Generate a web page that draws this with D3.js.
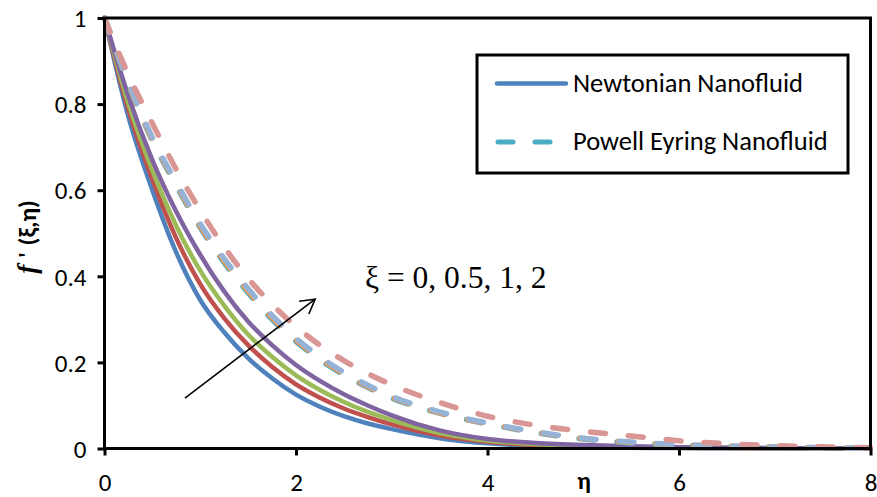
<!DOCTYPE html>
<html><head><meta charset="utf-8">
<script src="https://cdn.jsdelivr.net/npm/d3@7/dist/d3.min.js"></script>
<style>
html,body{margin:0;padding:0;background:#fff;}
svg{display:block;}
</style></head>
<body>
<svg id="c" width="877" height="497"></svg>
<script>
// eta grid
const eta = [0,0.25,0.5,0.75,1,1.25,1.5,1.75,2,2.25,2.5,2.75,3,3.5,4,4.5,5,5.5,6,6.5,7,7.5,8];
// Newtonian nanofluid, xi = 0, 0.5, 1, 2
const newtonXi0 = [1,0.77,0.60,0.455,0.345,0.27,0.21,0.163,0.125,0.097,0.075,0.058,0.045,0.024,0.012,0.006,0.003,0.0018,0.001,0.0006,0.0003,0.0001,0];
const newtonXi05 = [1,0.787,0.625,0.488,0.382,0.303,0.24,0.19,0.149,0.118,0.093,0.073,0.056,0.03,0.0155,0.0085,0.0048,0.003,0.0017,0.001,0.0005,0.0002,0];
const newtonXi1 = [1,0.801,0.646,0.517,0.413,0.332,0.265,0.213,0.17,0.136,0.108,0.085,0.066,0.036,0.0185,0.0105,0.0063,0.004,0.0023,0.0015,0.0008,0.0004,0];
const newtonXi2 = [1,0.818,0.67,0.55,0.45,0.365,0.295,0.24,0.194,0.157,0.126,0.1,0.077,0.042,0.022,0.013,0.008,0.005,0.003,0.002,0.001,0.0005,0];
// Powell-Eyring nanofluid, xi = 0, 0.5, 1, 2
const powellXi0 = [1,0.845,0.715,0.61,0.513,0.432,0.362,0.3,0.249,0.206,0.171,0.142,0.117,0.082,0.057,0.037,0.022,0.013,0.008,0.005,0.003,0.0015,0];
const powellXi05 = [1,0.847,0.718,0.614,0.517,0.436,0.366,0.304,0.252,0.209,0.174,0.144,0.119,0.083,0.058,0.038,0.023,0.014,0.0085,0.0053,0.0032,0.0016,0];
const powellXi1 = [1,0.85,0.722,0.618,0.522,0.441,0.371,0.309,0.256,0.213,0.177,0.147,0.121,0.085,0.059,0.039,0.024,0.015,0.009,0.0056,0.0034,0.0017,0];
const powellXi2 = [1,0.868,0.755,0.648,0.553,0.468,0.395,0.335,0.283,0.24,0.204,0.174,0.148,0.107,0.075,0.054,0.04,0.029,0.018,0.011,0.0065,0.004,0.002];

const xTicks = [0,2,4,6,8];
const yTicks = [0,0.2,0.4,0.6,0.8,1];
const legendLabels = ["Newtonian Nanofluid","Powell Eyring Nanofluid"];
const annotation = "ξ = 0, 0.5, 1, 2";
const arrowFrom = [0.84,0.117];
const arrowTo = [2.2,0.347];

const series = [
  {v:newtonXi0, c:"#4F81BD", dash:false},
  {v:newtonXi05, c:"#C0504D", dash:false},
  {v:newtonXi1, c:"#9BBB59", dash:false},
  {v:newtonXi2, c:"#8064A2", dash:false},
  {v:powellXi0, c:"#4BACC6", dash:true},
  {v:powellXi05, c:"#F79646", dash:true},
  {v:powellXi1, c:"#95B3D7", dash:true},
  {v:powellXi2, c:"#D99694", dash:true}
];

const svg = d3.select("#c");
const x = d3.scaleLinear().domain([0,8]).range([104.5,870.5]);
const y = d3.scaleLinear().domain([0,1]).range([448.5,18]);

const sansFont = "Carlito, Calibri, Lato, 'Open Sans', sans-serif";

// lines
const line = d3.line().x((d,i)=>x(eta[i])).y(d=>y(d)).curve(d3.curveMonotoneX);
const gLines = svg.append("g");
series.forEach(s=>{
  gLines.append("path").datum(s.v).attr("d",line)
    .attr("fill","none").attr("stroke",s.c)
    .attr("stroke-width",s.dash?5.5:4.5)
    .attr("stroke-linecap",s.dash?"round":"butt")
    .attr("stroke-dasharray",s.dash?"15,23":null);
});

// axes
const xAxis = d3.axisBottom(x).tickValues(xTicks).tickSize(7).tickFormat(d3.format("d"));
const yAxis = d3.axisLeft(y).tickValues(yTicks).tickSize(7).tickFormat(d=>d===0?"0":d===1?"1":d3.format(".1f")(d));
const gx = svg.append("g").attr("transform",`translate(0,${y(0)})`).call(xAxis);
const gy = svg.append("g").attr("transform",`translate(${x(0)},0)`).call(yAxis);
[gx,gy].forEach(g=>{
  g.select(".domain").remove();
  g.selectAll(".tick line").attr("stroke","#000").attr("stroke-width",3);
  g.selectAll(".tick text").attr("fill","#000").style("font-family",sansFont).style("font-size","25px");
});
gx.selectAll(".tick text").attr("dy","0").attr("y",42);
gy.selectAll(".tick text").attr("x",-18).attr("dy","0.35em");

// frame
svg.append("rect").attr("x",x(0)).attr("y",y(1)).attr("width",x(8)-x(0)).attr("height",y(0)-y(1))
  .attr("fill","none").attr("stroke","#000").attr("stroke-width",3);

// axis titles
svg.append("text").attr("x",584).attr("y",489).attr("text-anchor","middle")
  .style("font-family",sansFont).style("font-weight","bold").style("font-size","25px").text("η");
const yl = svg.append("text").attr("transform","translate(36,237) rotate(-90)").attr("text-anchor","middle")
  .style("font-size","25px");
yl.append("tspan").style("font-family","'Liberation Serif', serif").style("font-style","italic").style("font-weight","bold").style("font-size","27px").text("f");
yl.append("tspan").style("font-family","'Liberation Serif', serif").style("font-weight","bold").text(" ' ");
yl.append("tspan").style("font-family",sansFont).style("font-weight","bold").text("(ξ,η)");

// annotation arrow
svg.append("defs").append("marker").attr("id","ah").attr("viewBox","-16 -10 18 20")
  .attr("refX",0).attr("refY",0).attr("markerWidth",18).attr("markerHeight",20)
  .attr("markerUnits","userSpaceOnUse").attr("orient","auto")
  .append("path").attr("d","M-14,-8 L0,0 L-14,8").attr("fill","none").attr("stroke","#000").attr("stroke-width",1.6);
svg.append("line").attr("x1",x(arrowFrom[0])).attr("y1",y(arrowFrom[1]))
  .attr("x2",x(arrowTo[0])).attr("y2",y(arrowTo[1]))
  .attr("stroke","#000").attr("stroke-width",1.6).attr("marker-end","url(#ah)");
svg.append("text").attr("x",365).attr("y",288).style("font-family","'Liberation Serif', 'Times New Roman', serif")
  .style("font-size","31.5px").text(annotation);

// legend
const lg = svg.append("g");
lg.append("rect").attr("x",477).attr("y",55).attr("width",371).attr("height",118)
  .attr("fill","#fff").attr("stroke","#000").attr("stroke-width",3);
lg.append("line").attr("x1",497).attr("x2",566).attr("y1",83.5).attr("y2",83.5)
  .attr("stroke","#4F81BD").attr("stroke-width",4.5).attr("stroke-linecap","round");
lg.append("line").attr("x1",498).attr("x2",566).attr("y1",142).attr("y2",142)
  .attr("stroke","#4BACC6").attr("stroke-width",5).attr("stroke-linecap","round").attr("stroke-dasharray","15,22");
legendLabels.forEach((t,i)=>{
  lg.append("text").attr("x",573).attr("y",i===0?92:150).style("font-family",sansFont)
    .style("font-size","26.5px").attr("fill","#000").text(t);
});
</script>
</body></html>
